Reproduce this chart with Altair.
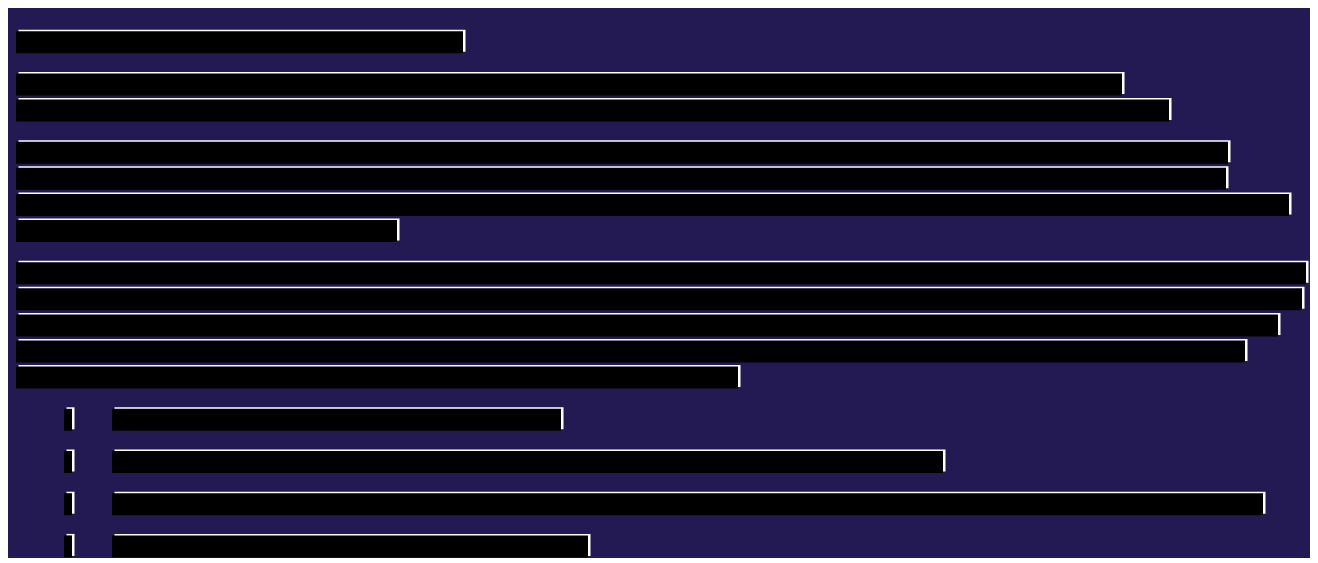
import altair as alt
import pandas as pd

# Line lengths per paragraph (units ~ pixels from the left text edge)
paragraph_0 = [447]
paragraph_1 = [1106, 1153]
paragraph_2 = [1212, 1210, 1273, 381]
paragraph_3 = [1290, 1286, 1262, 1229, 722]
paragraphs = [paragraph_0, paragraph_1, paragraph_2, paragraph_3]

# List items: bullet marker and text line
bullet_start = [48, 48, 48, 48]
bullet_end = [56, 56, 56, 56]
list_text_start = [96, 96, 96, 96]
list_text_end = [545, 927, 1247, 572]

W, H = 1302, 547
LINE_PITCH, PARA_GAP, TOP, BAR_H = 26.1, 16.1, 23.2, 22

rows = []
line = 0
para = 0
for p in paragraphs:
    for end in p:
        rows.append({"line": line, "para": para, "start": 0, "end": end})
        line += 1
    para += 1
for bs, be, ts, te in zip(bullet_start, bullet_end, list_text_start, list_text_end):
    rows.append({"line": line, "para": para, "start": bs, "end": be})
    rows.append({"line": line, "para": para, "start": ts, "end": te})
    line += 1
    para += 1

df = pd.DataFrame(rows)
df["top"] = TOP + LINE_PITCH * df["line"] + PARA_GAP * df["para"]
df["bottom"] = df["top"] + BAR_H

xs = alt.Scale(domain=[-8, W - 8], nice=False, zero=False)
ys = alt.Scale(domain=[0, H], nice=False, zero=False, reverse=True)

enc = dict(
    x=alt.X("start:Q", scale=xs, axis=None),
    x2="end:Q",
    y=alt.Y("top:Q", scale=ys, axis=None),
    y2="bottom:Q",
)

shadow = alt.Chart(df).mark_bar(
    color="white", xOffset=2.5, x2Offset=2.5, yOffset=-1.5, y2Offset=-1.5,
    cornerRadius=0, strokeWidth=0
).encode(**enc)

bars = alt.Chart(df).mark_bar(
    color="black", cornerRadius=0, strokeWidth=0
).encode(**enc)

chart = alt.layer(shadow, bars).properties(
    width=W, height=H, background="#231a54", padding=0
).configure_view(stroke=None)

chart.save("out.html", embed_options={"renderer": "svg", "actions": False})
